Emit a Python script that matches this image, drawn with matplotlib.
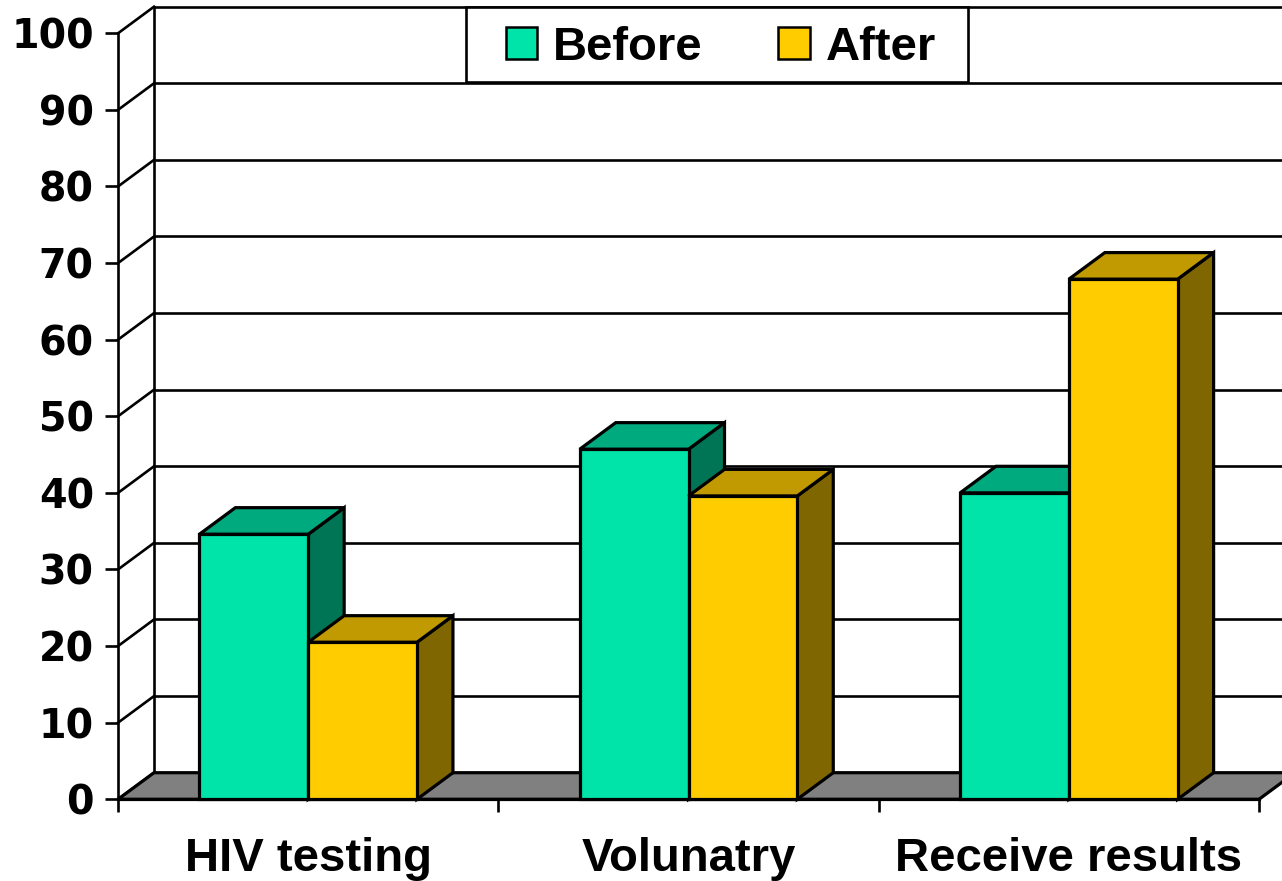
import matplotlib
matplotlib.use("Agg")
import matplotlib.pyplot as plt
from matplotlib.patches import Polygon, Rectangle, Patch

categories = ["HIV testing", "Volunatry", "Receive results"]
series_names = ["Before", "After"]
before = [34.6, 45.7, 40.0]
after = [20.5, 39.6, 67.9]
yticks = [0, 10, 20, 30, 40, 50, 60, 70, 80, 90, 100]

front_cols = {"Before": "#00E3A9", "After": "#FFCC00"}
top_cols = {"Before": "#00AA7F", "After": "#C09A00"}
side_cols = {"Before": "#007555", "After": "#806600"}

W, H = 1282, 881
fig = plt.figure(figsize=(W / 100, H / 100), dpi=100)
fig.patch.set_facecolor("white")
ax = fig.add_axes([118 / W, (H - 799.3) / H, (1259 - 118) / W, 766 / H])
ax.set_xlim(0, 3)
ax.set_ylim(0, 100)
ax.set_facecolor("none")

# depth offsets in data units
dx = 36 / 380.3
dy = 26.6 / 7.66

grid_lw = 1.9
edge_lw = 2.3

# back wall gridlines and side wall lines
for v in yticks:
    ax.plot([dx, 3 + dx + 0.3], [v + dy, v + dy], color="black", lw=grid_lw,
            clip_on=False, zorder=1, solid_capstyle="butt")
    ax.plot([0, dx], [v, v + dy], color="black", lw=grid_lw, clip_on=False, zorder=1)
ax.plot([dx, dx], [dy, 100 + dy], color="black", lw=grid_lw, clip_on=False, zorder=1)

# floor
floor = Polygon([(0, 0), (3, 0), (3 + dx, dy), (dx, dy)],
                closed=True, facecolor="#808080", edgecolor="black", lw=edge_lw,
                joinstyle="miter", clip_on=False, zorder=2)
ax.add_patch(floor)

# 3D bars
bw = 0.286
data = {"Before": before, "After": after}
for i in range(len(categories)):
    for j, name in enumerate(series_names):
        v = data[name][i]
        x0 = i + 0.5 - bw + j * bw
        x1 = x0 + bw
        z = 3 + i * 0.1 + j * 0.01
        side = Polygon([(x1, 0), (x1 + dx, dy), (x1 + dx, v + dy), (x1, v)], closed=True,
                       facecolor=side_cols[name], edgecolor="black", lw=edge_lw,
                       joinstyle="miter", clip_on=False, zorder=z)
        top = Polygon([(x0, v), (x1, v), (x1 + dx, v + dy), (x0 + dx, v + dy)], closed=True,
                      facecolor=top_cols[name], edgecolor="black", lw=edge_lw,
                      joinstyle="miter", clip_on=False, zorder=z)
        front = Rectangle((x0, 0), bw, v, facecolor=front_cols[name], edgecolor="black",
                          lw=edge_lw, joinstyle="miter", clip_on=False, zorder=z)
        ax.add_patch(side)
        ax.add_patch(top)
        ax.add_patch(front)

# axes, ticks and labels
for s in ["top", "right"]:
    ax.spines[s].set_visible(False)
ax.spines["left"].set_linewidth(grid_lw)
ax.spines["bottom"].set_linewidth(edge_lw)
ax.spines["left"].set_zorder(2.5)
ax.spines["bottom"].set_zorder(2.5)

ax.set_yticks(yticks)
ax.set_yticklabels([str(t) for t in yticks], fontfamily="DejaVu Sans",
                   fontweight="bold", fontsize=28.5)
ax.tick_params(axis="y", length=9.4, width=grid_lw, pad=8, direction="out")

ax.set_xticks([0.5, 1.5, 2.5])
ax.set_xticklabels(categories, fontfamily="Liberation Sans", fontweight="bold", fontsize=34)
ax.tick_params(axis="x", which="major", length=0, pad=27)
ax.set_xticks([0, 1, 2, 3], minor=True)
ax.tick_params(axis="x", which="minor", length=9.4, width=grid_lw, direction="out")

# legend frame and legend
frame = Rectangle((466 / W, 1 - 82 / H), (968 - 466) / W, (82 - 7) / H,
                  transform=fig.transFigure, facecolor="white", edgecolor="black",
                  lw=grid_lw, zorder=4)
fig.add_artist(frame)
handles = [Patch(facecolor=front_cols[n], edgecolor="black", lw=1.8) for n in series_names]
leg = fig.legend(handles, series_names, loc="center",
                 bbox_to_anchor=(721 / W, 1 - 47.5 / H), ncol=2, frameon=False,
                 prop={"family": "Liberation Sans", "weight": "bold", "size": 34},
                 handlelength=0.66, handleheight=0.66, handletextpad=0.34,
                 columnspacing=1.6, borderpad=0.1)
leg.set_zorder(5)

fig.savefig("out.png", dpi=100)
